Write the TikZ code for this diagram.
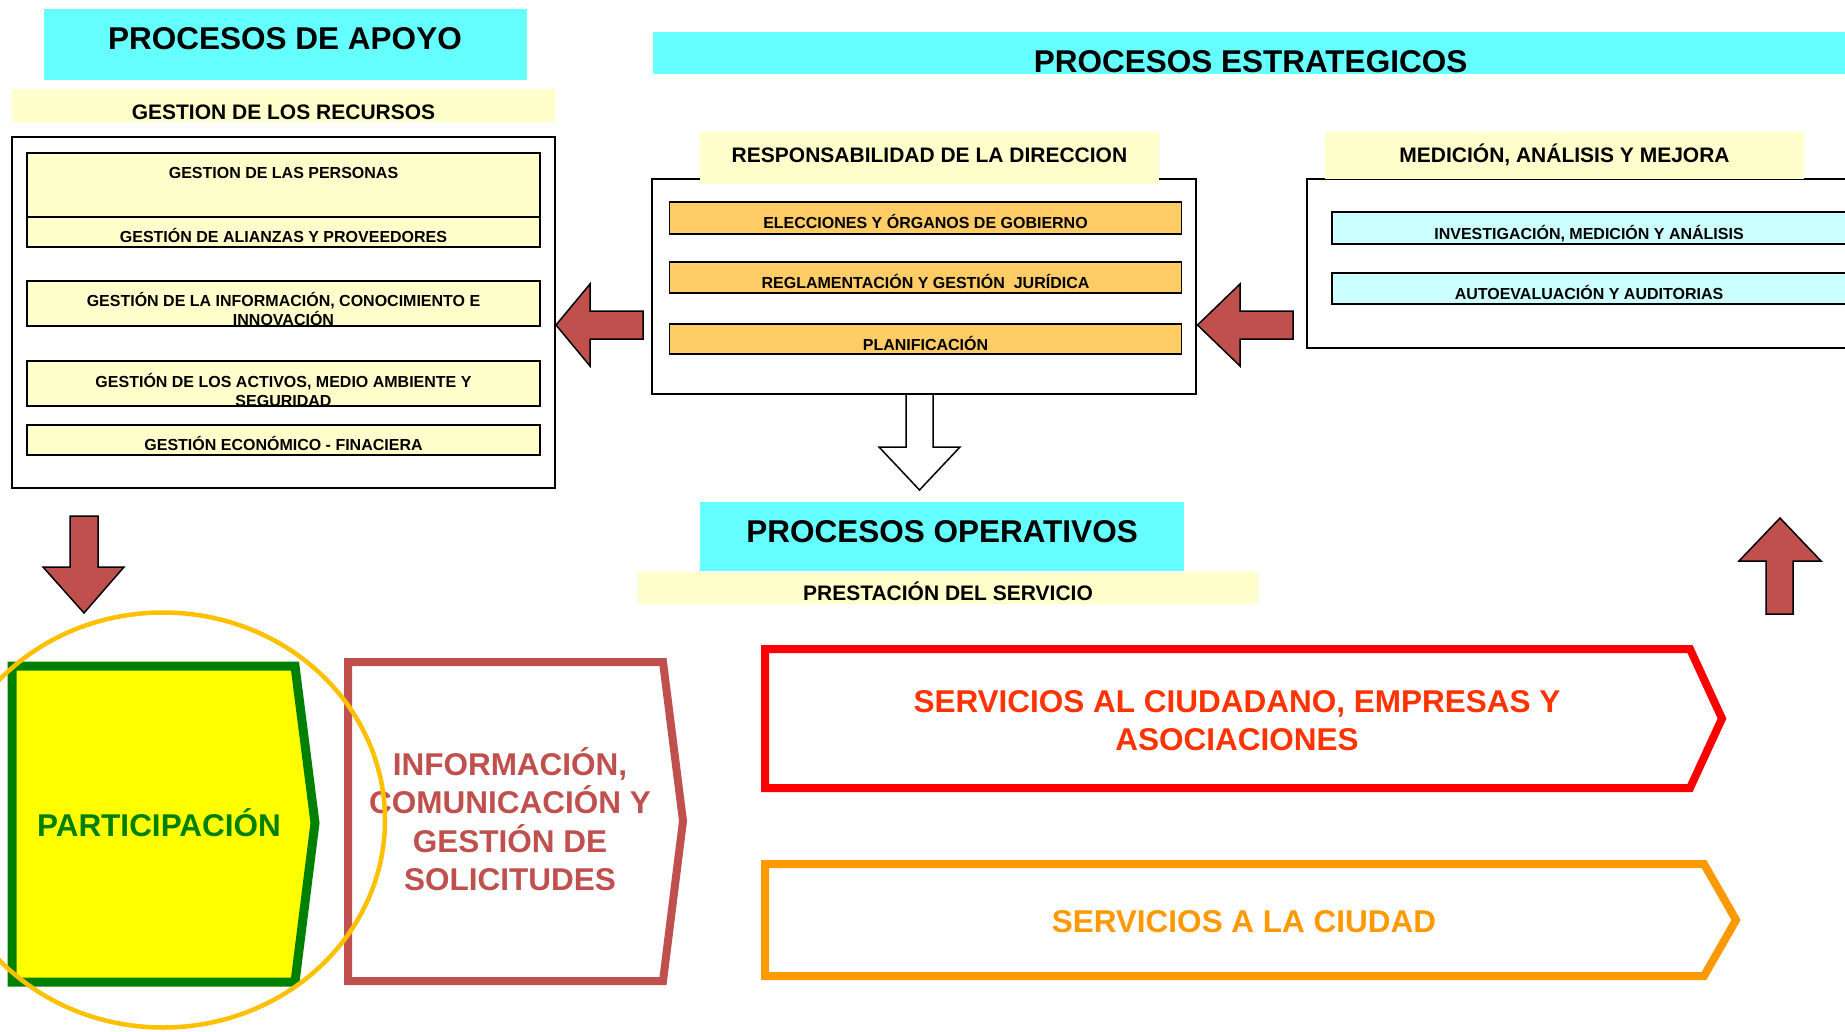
\documentclass[tikz,border=0pt]{standalone}
\usepackage{fontspec}
\setmainfont{Liberation Sans}
\definecolor{cyanband}{HTML}{66FFFF}
\definecolor{paleyel}{HTML}{FFFFCC}
\definecolor{orbox}{HTML}{FFCC66}
\definecolor{palecyan}{HTML}{CCFFFF}
\definecolor{arrowred}{HTML}{C0504D}
\definecolor{partgreen}{HTML}{008000}
\definecolor{partyel}{HTML}{FFFF00}
\definecolor{ringor}{HTML}{FFC000}
\definecolor{servred}{HTML}{FF0000}
\definecolor{servredtxt}{HTML}{FF3300}
\definecolor{servor}{HTML}{FF9900}
\begin{document}
\begin{tikzpicture}[x=1pt,y=-1pt,
  big/.style={font=\fontsize{31.5}{37.8}\selectfont\bfseries, inner sep=0pt, anchor=base, align=center},
  mid/.style={font=\fontsize{21}{25}\selectfont\bfseries, inner sep=0pt, anchor=base},
  small/.style={font=\fontsize{16}{19}\selectfont\bfseries, inner sep=0pt, anchor=base, align=center},
  frame/.style={draw=black, line width=2pt, fill=white},
  ibox/.style={draw=black, line width=1.8pt},
  redarrow/.style={draw=black, line width=1.5pt, fill=arrowred, line join=miter},
  hollowarrow/.style={draw=black, line width=1.5pt, fill=white},
  chevron/.style={line width=8pt, line join=miter},
]
\useasboundingbox (0,0) rectangle (1845,1031);
\clip (0,0) rectangle (1845,1031);
\fill[white] (0,0) rectangle (1845,1031);

% ---------- PROCESOS DE APOYO ----------
\fill[cyanband] (43.5,9) rectangle (527,80);
\node[big] (tApoyo) at (285,49) {PROCESOS DE APOYO};
\fill[paleyel] (12,89) rectangle (555,122);
\node[mid] (tRecursos) at (283.5,119) {GESTION DE LOS RECURSOS};
\draw[frame] (12,136.5) rectangle (555,488);
\draw[ibox, fill=paleyel] (27,153) rectangle (540,217);
\draw[ibox, fill=paleyel] (27,217) rectangle (540,247);
\draw[ibox, fill=paleyel] (27,281) rectangle (540,326);
\draw[ibox, fill=paleyel] (27,361) rectangle (540,406);
\draw[ibox, fill=paleyel] (27,425) rectangle (540,455);
\node[small] (tPersonas) at (283.5,178) {GESTION DE LAS PERSONAS};
\node[small] (tAlianzas) at (283.5,242) {GESTIÓN DE ALIANZAS Y PROVEEDORES};
\node[small] (tInfoG) at (283.5,325) {GESTIÓN DE LA INFORMACIÓN, CONOCIMIENTO E\\INNOVACIÓN};
\node[small] (tActivos) at (283.5,406) {GESTIÓN DE LOS ACTIVOS, MEDIO AMBIENTE Y\\SEGURIDAD};
\node[small] (tEcon) at (283.5,450) {GESTIÓN ECONÓMICO - FINACIERA};

% ---------- PROCESOS ESTRATEGICOS ----------
\fill[cyanband] (653,32) rectangle (1848,74);
\node[big] (tEstr) at (1250.5,72) {PROCESOS ESTRATEGICOS};

\draw[frame] (652,179) rectangle (1195.5,394);
\fill[paleyel] (700,132) rectangle (1159,184);
\node[mid] (tResp) at (929.5,162) {RESPONSABILIDAD DE LA DIRECCION};
\draw[ibox, fill=orbox] (669.5,202) rectangle (1181.5,234);
\draw[ibox, fill=orbox] (669.5,262) rectangle (1181.5,293);
\draw[ibox, fill=orbox] (669.5,324) rectangle (1181.5,354);
\node[small] (tElec) at (925.5,228) {ELECCIONES Y ÓRGANOS DE GOBIERNO};
\node[small] (tRegl) at (925.5,288) {REGLAMENTACIÓN Y GESTIÓN\ \ JURÍDICA};
\node[small] (tPlan) at (925.5,350) {PLANIFICACIÓN};

\draw[frame] (1307,179) rectangle (1852,348);
\fill[paleyel] (1325,132) rectangle (1804,178.5);
\node[mid] (tMed) at (1564.5,162) {MEDICIÓN, ANÁLISIS Y MEJORA};
\draw[ibox, fill=palecyan] (1332,212) rectangle (1848,244);
\draw[ibox, fill=palecyan] (1332,273) rectangle (1848,304);
\node[small] (tInv) at (1589,239) {INVESTIGACIÓN, MEDICIÓN Y ANÁLISIS};
\node[small] (tAuto) at (1589,299) {AUTOEVALUACIÓN Y AUDITORIAS};

% ---------- block arrows ----------
\draw[redarrow] (643,311) -- (590,311) -- (590,284) -- (556,325) -- (590,366) -- (590,339) -- (643,339) -- cycle;
\draw[redarrow] (1293,311) -- (1240,311) -- (1240,284) -- (1197.5,325) -- (1240,366) -- (1240,339) -- (1293,339) -- cycle;
\draw[hollowarrow] (906,394) -- (906,447) -- (879,447) -- (919.5,490) -- (960,447) -- (933,447) -- (933,394) -- cycle;
\draw[redarrow] (70,516) -- (98,516) -- (98,567) -- (124,567) -- (84,613) -- (43,567) -- (70,567) -- cycle;
\draw[redarrow] (1766,614) -- (1766,561) -- (1739,561) -- (1780,518) -- (1821,561) -- (1793,561) -- (1793,614) -- cycle;

% ---------- PROCESOS OPERATIVOS ----------
\fill[cyanband] (700,502) rectangle (1184,571);
\node[big] (tOper) at (942,542) {PROCESOS OPERATIVOS};
\fill[paleyel] (638,572) rectangle (1258,604);
\node[mid] (tPrest) at (948,600.5) {PRESTACIÓN DEL SERVICIO};

% ---------- bottom chevrons ----------
\draw[chevron, line width=9pt, draw=partgreen, fill=partyel] (12,666) -- (295,666) -- (315,823) -- (295,982) -- (12,982) -- cycle;
\node[big, text=partgreen] (tPart) at (159,836) {PARTICIPACIÓN};

\draw[chevron, draw=arrowred, fill=white] (348,662) -- (663,662) -- (683,821) -- (663,981) -- (348,981) -- cycle;
\node[big, text=arrowred, font=\fontsize{31.5}{38.5}\selectfont\bfseries] (tInfoCom) at (510,890.5) {INFORMACIÓN,\\COMUNICACIÓN Y\\GESTIÓN DE\\SOLICITUDES};

\draw[chevron, draw=servred] (765,649) -- (1690,649) -- (1722,718.5) -- (1690,788) -- (765,788) -- cycle;
\node[big, text=servredtxt] (tServC) at (1237,750.3) {SERVICIOS AL CIUDADANO, EMPRESAS Y\\ASOCIACIONES};

\draw[chevron, draw=servor] (765,864) -- (1704,864) -- (1736,920) -- (1704,976) -- (765,976) -- cycle;
\node[big, text=servor] (tServCity) at (1244,932.7) {SERVICIOS A LA CIUDAD};

% ---------- ring ----------
\draw[line width=4.5pt, ringor] (163,820) ellipse [x radius=222, y radius=207.5];
\end{tikzpicture}
\end{document}
